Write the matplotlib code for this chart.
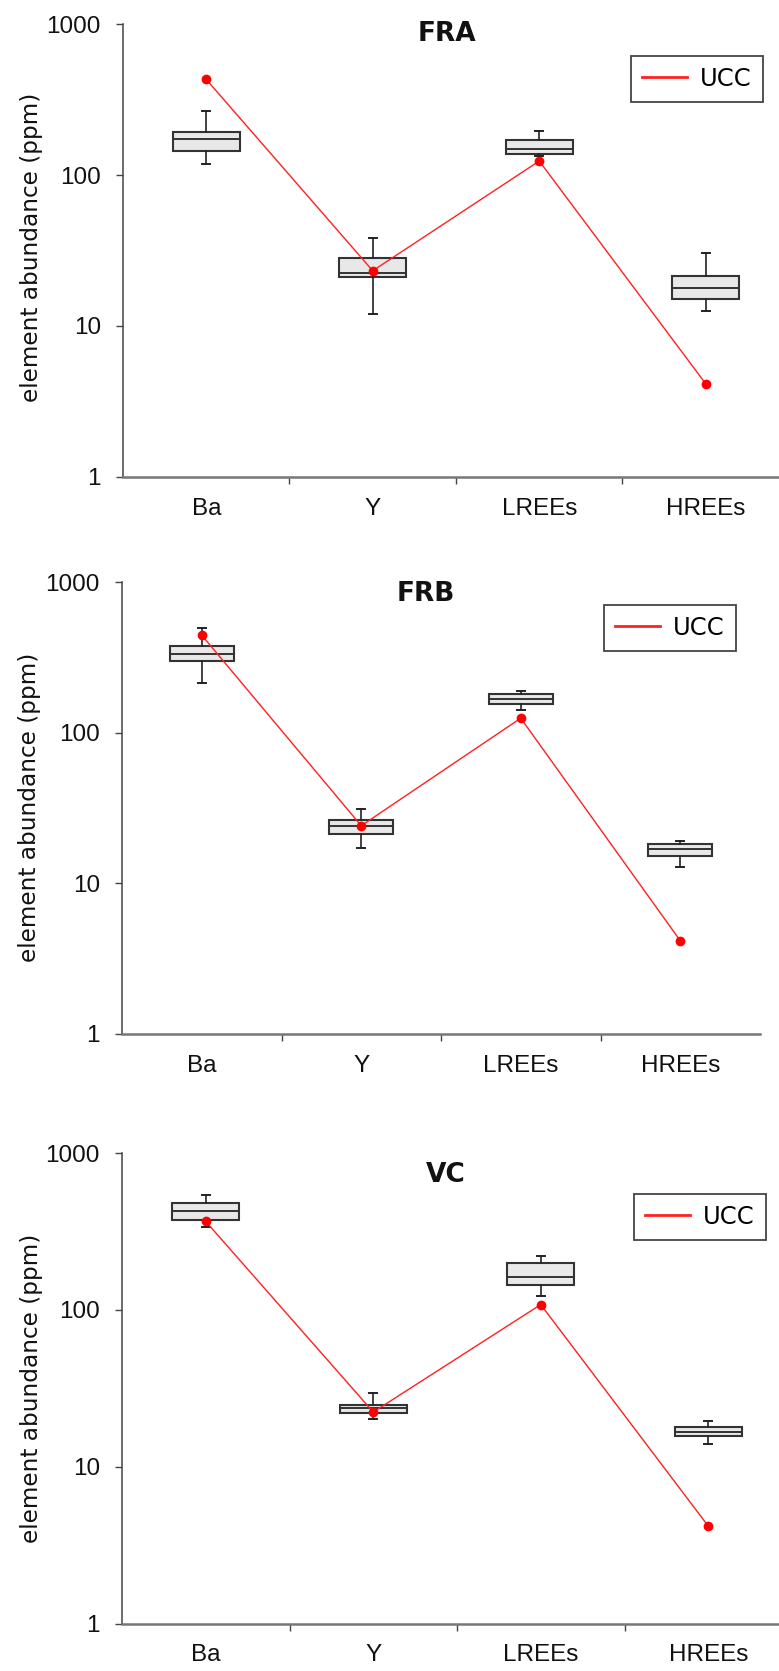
import matplotlib
matplotlib.use("Agg")
import matplotlib.pyplot as plt

W, H = 779, 1671
DPI = 100

categories = ["Ba", "Y", "LREEs", "HREEs"]
panel_titles = ["FRA", "FRB", "VC"]

# box statistics per panel: whisker low, q1, median, q3, whisker high
fra_whislo = [118, 12.0, 134, 12.6]
fra_q1     = [144, 21.2, 139, 15.1]
fra_med    = [174, 22.4, 150, 17.8]
fra_q3     = [194, 28.0, 172, 21.3]
fra_whishi = [265, 38.5, 197, 30.4]
fra_ucc    = [431, 23.2, 124, 4.13]

frb_whislo = [213, 17.1, 142, 12.8]
frb_q1     = [298, 21.1, 156, 15.1]
frb_med    = [336, 24.0, 167, 17.0]
frb_q3     = [380, 26.2, 181, 18.3]
frb_whishi = [500, 31.0, 190, 19.2]
frb_ucc    = [445, 24.1, 125, 4.15]

vc_whislo = [335, 20.0, 123, 14.0]
vc_q1     = [374, 22.1, 145, 15.6]
vc_med    = [426, 23.5, 163, 16.6]
vc_q3     = [480, 24.9, 200, 17.8]
vc_whishi = [540, 29.4, 220, 19.5]
vc_ucc    = [366, 22.3, 108, 4.18]

yticks = [1, 10, 100, 1000]
ytick_labels = ["1", "10", "100", "1000"]

panels = [
    (fra_whislo, fra_q1, fra_med, fra_q3, fra_whishi, fra_ucc),
    (frb_whislo, frb_q1, frb_med, frb_q3, frb_whishi, frb_ucc),
    (vc_whislo, vc_q1, vc_med, vc_q3, vc_whishi, vc_ucc),
]

# layout in pixels: (left, right, top(1000), bottom(1))
layout = [
    (123, 789, 24.3, 476.7),
    (122, 760, 582.3, 1033.7),
    (122, 792, 1153.0, 1623.5),
]
title_pos = [(447, 34), (426, 594), (446, 1175)]
ylabel_pos = [(32, 247.5), (30, 807.5), (32, 1388)]
legend_pos = [(631, 55.7), (604, 605), (634, 1194)]

fig = plt.figure(figsize=(W / DPI, H / DPI), dpi=DPI)

for i, (wl, q1, med, q3, wh, ucc) in enumerate(panels):
    l, r, t, b = layout[i]
    ax = fig.add_axes([l / W, 1 - b / H, (r - l) / W, (b - t) / H])
    stats = []
    for j, c in enumerate(categories):
        stats.append(dict(label=c, whislo=wl[j], q1=q1[j], med=med[j],
                          q3=q3[j], whishi=wh[j], fliers=[]))
    pos = list(range(1, len(categories) + 1))
    ax.bxp(stats, positions=pos, widths=0.40, capwidths=0.05,
           showfliers=False, patch_artist=True,
           boxprops=dict(facecolor="#e8e8e8", edgecolor="#333333", linewidth=1.5),
           medianprops=dict(color="#333333", linewidth=1.4),
           whiskerprops=dict(color="#222222", linewidth=1.2),
           capprops=dict(color="#222222", linewidth=1.4))
    ax.plot(pos, ucc, color="#ff2020", linewidth=1.0, label="UCC", zorder=5)
    ax.plot(pos, ucc, "o", color="#ff0000", markersize=6, zorder=6)

    ax.set_yscale("log")
    ax.set_ylim(1, 1000)
    ax.set_xlim(0.5, 4.5)
    ax.set_yticks(yticks)
    ax.set_yticklabels(ytick_labels)
    ax.minorticks_off()
    ax.set_xticks([1.5, 2.5, 3.5])
    ax.set_xticklabels([])
    ax.set_xticks(pos, minor=True)
    ax.set_xticklabels(categories, minor=True)
    ax.tick_params(axis="x", which="major", direction="out", length=5,
                   width=1.0, color="#444444")
    ax.tick_params(axis="x", which="minor", length=0, pad=15,
                   labelsize=17.5, labelfontfamily="Liberation Sans",
                   labelcolor="#111111")
    ax.tick_params(axis="y", direction="out", length=5, width=1.0,
                   color="#444444", pad=11, labelsize=17.5,
                   labelfontfamily="Liberation Sans", labelcolor="#111111")
    for s in ("top", "right"):
        ax.spines[s].set_visible(False)
    ax.spines["left"].set_color("#444444")
    ax.spines["left"].set_linewidth(1.1)
    ax.spines["bottom"].set_color("#777777")
    ax.spines["bottom"].set_linewidth(1.8)
    ax.patch.set_alpha(0)

    tx, ty = title_pos[i]
    fig.text(tx / W, 1 - ty / H, panel_titles[i], ha="center", va="center",
             fontsize=19, fontweight="bold", family="DejaVu Sans", color="#111111")
    yx, yy = ylabel_pos[i]
    fig.text(yx / W, 1 - yy / H, "element abundance (ppm)", rotation=90,
             ha="center", va="center", fontsize=16.7, family="DejaVu Sans",
             color="#111111")
    lx, ly = legend_pos[i]
    leg = ax.legend(loc="upper left", bbox_to_anchor=(lx / W, 1 - ly / H),
                    bbox_transform=fig.transFigure, borderaxespad=0,
                    frameon=True, fancybox=False, framealpha=1,
                    edgecolor="#444444", handlelength=1.85, handletextpad=0.55,
                    borderpad=0.45, prop=dict(family="DejaVu Sans", size=17.5))
    leg.get_frame().set_linewidth(1.3)
    for line in leg.get_lines():
        line.set_linewidth(2.0)

fig.savefig("out.png", dpi=DPI)
